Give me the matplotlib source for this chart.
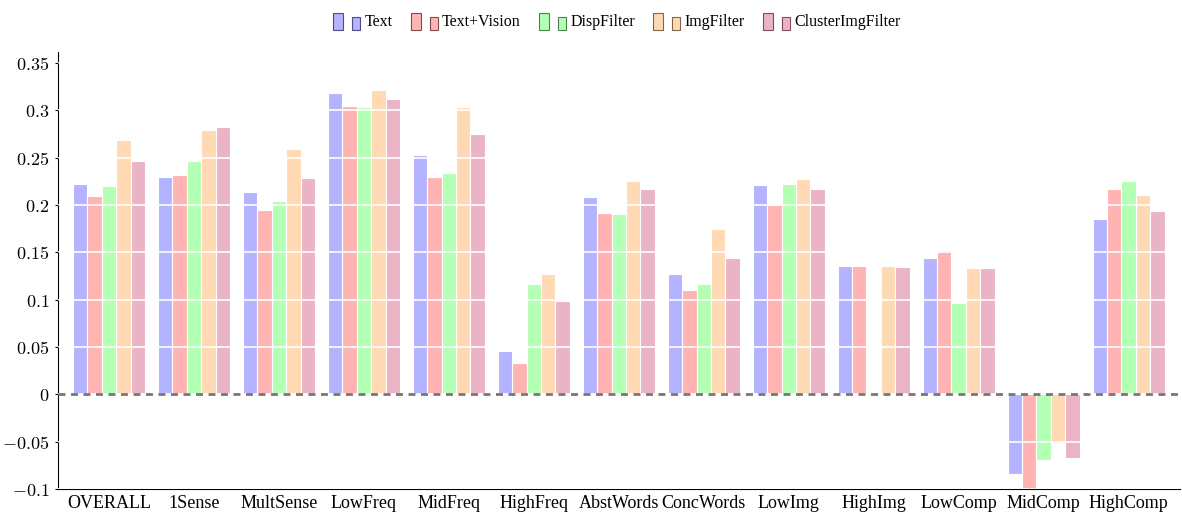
import numpy as np
import matplotlib
matplotlib.use('Agg')
import matplotlib.pyplot as plt
from matplotlib.patches import Rectangle
from matplotlib.legend_handler import HandlerBase

# ── data ──
categories = ['OVERALL', '1Sense', 'MultSense', 'LowFreq', 'MidFreq', 'HighFreq',
              'AbstWords', 'ConcWords', 'LowImg', 'HighImg', 'LowComp',
              'MidComp', 'HighComp']
series = ['Text', 'Text+Vision', 'DispFilter', 'ImgFilter', 'ClusterImgFilter']

text_vals    = [0.222, 0.230, 0.214, 0.318, 0.253, 0.046, 0.208, 0.127, 0.221, 0.136, 0.144, -0.084, 0.185]
textvis_vals = [0.209, 0.232, 0.195, 0.305, 0.230, 0.033, 0.192, 0.110, 0.200, 0.136, 0.152, -0.110, 0.217]
disp_vals    = [0.220, 0.247, 0.204, 0.304, 0.234, 0.117, 0.190, 0.117, 0.222, np.nan, 0.097, -0.069, 0.225]
img_vals     = [0.269, 0.279, 0.259, 0.321, 0.303, 0.127, 0.225, 0.175, 0.227, 0.136, 0.133, -0.051, 0.211]
cluster_vals = [0.247, 0.282, 0.228, 0.312, 0.275, 0.099, 0.217, 0.144, 0.217, 0.134, 0.133, -0.067, 0.194]

all_vals = [text_vals, textvis_vals, disp_vals, img_vals, cluster_vals]
colors = ['#b3b3ff', '#ffb3b3', '#b3ffb3', '#ffd9b3', '#ebb3c6']
edge_colors = ['#4d4d80', '#804d4d', '#4d804d', '#80664d', '#804d60']


class TwinBarHandler(HandlerBase):
    # two little bars per legend entry, like the original pgfplots legend
    def __init__(self, face, edge):
        super().__init__()
        self.face = face
        self.edge = edge

    def create_artists(self, legend, orig_handle, xdescent, ydescent,
                       width, height, fontsize, trans):
        r1 = Rectangle((0, -2.5), 7.2, 12.0, facecolor=self.face,
                       edgecolor=self.edge, lw=0.8, transform=trans)
        r2 = Rectangle((13.7, -2.8), 5.5, 9.2, facecolor=self.face,
                       edgecolor=self.edge, lw=0.8, transform=trans)
        return [r1, r2]


plt.rcParams['mathtext.fontset'] = 'cm'

fig = plt.figure(figsize=(11.82, 5.15), dpi=100)
ax = fig.add_axes([0.049, 0.0505, 0.949, 0.8485])

x = np.arange(len(categories))
w = 0.17
for i, vals in enumerate(all_vals):
    ax.bar(x + (i - 2) * w, vals, w, color=colors[i], edgecolor='white',
           linewidth=0.8, label=series[i], zorder=2)

ax.axhline(0, color='#777777', linestyle=(0, (2.5, 2)), linewidth=2, zorder=4)

ax.set_xlim(-0.6, 12.6)
ax.set_ylim(-0.1, 0.3616)
yt = [-0.1, -0.05, 0, 0.05, 0.1, 0.15, 0.2, 0.25, 0.3, 0.35]
ax.set_yticks(yt)
ax.set_yticklabels(['$%g$' % v for v in yt], fontsize=13)
ax.set_xticks(x)
ax.set_xticklabels(categories, fontsize=13, family='Liberation Serif')
ax.tick_params(axis='x', length=0, pad=4)
ax.tick_params(axis='y', length=2, pad=4)

ax.grid(True, axis='y', color='white', linewidth=1.2, zorder=3)
ax.set_axisbelow(False)
for s in ['top', 'right']:
    ax.spines[s].set_visible(False)

handles = [Rectangle((0, 0), 1, 1) for _ in series]
hmap = {h: TwinBarHandler(colors[i], edge_colors[i]) for i, h in enumerate(handles)}
leg = fig.legend(handles, series, loc='center', bbox_to_anchor=(0.522, 0.957),
                 ncol=5, frameon=False, handler_map=hmap, handlelength=1.7,
                 handletextpad=0.25, columnspacing=1.15,
                 prop={'family': 'Liberation Serif', 'size': 11.5})

fig.savefig('out.png', dpi=100)
